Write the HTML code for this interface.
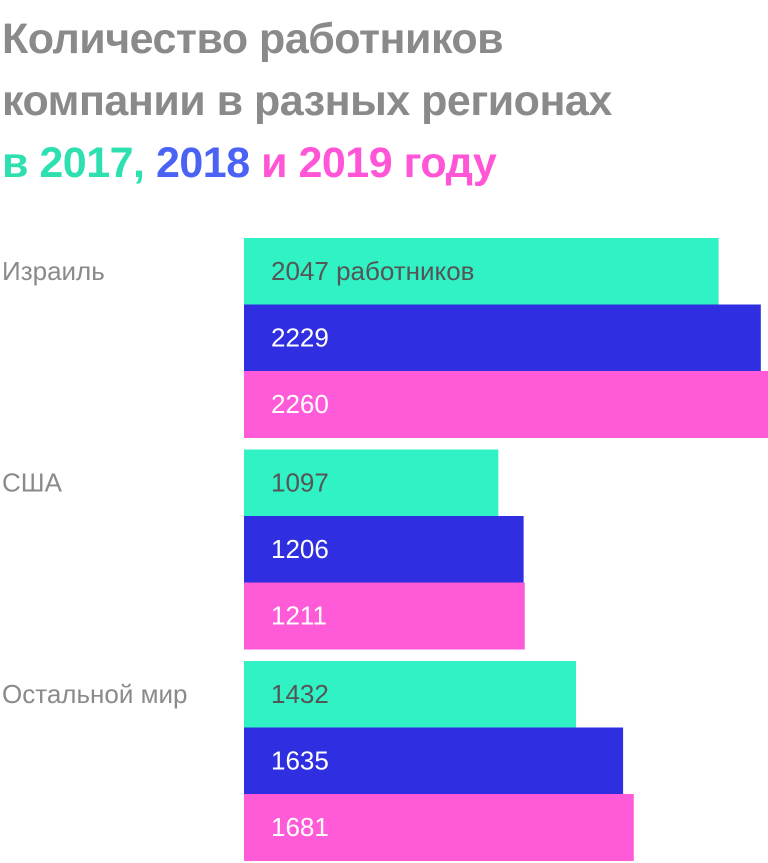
<!DOCTYPE html>
<html><head><meta charset="utf-8"><style>
html,body{margin:0;padding:0;background:#fff;}
body{width:768px;height:863px;overflow:hidden;position:relative;font-family:"Liberation Sans","DejaVu Sans",sans-serif;}
.title{position:absolute;left:2px;top:8px;font-size:43px;font-weight:bold;line-height:62px;color:#8a8a8a;letter-spacing:-0.5px;white-space:nowrap;}
</style></head><body>
<div class="title">Количество работников<br>компании в разных регионах<br><span style="color:#2ee0b0">в 2017,</span> <span style="color:#4a63f5">2018</span> <span style="color:#ff55d6">и 2019 году</span></div>
<svg id="chart" width="768" height="863" style="position:absolute;left:0;top:0"></svg>
<script>
const regions=["Израиль","США","Остальной мир"];
const years=["2017","2018","2019"];
const values2017=[2047,1097,1432];
const values2018=[2229,1206,1635];
const values2019=[2260,1211,1681];
const series=[values2017,values2018,values2019];
const colors=["#30f2c5","#2f2ee0","#ff5ad8"];
const textColors=["#555555","#ffffff","#ffffff"];
const svg=document.getElementById('chart');
const NS="http://www.w3.org/2000/svg";
const x0=244, maxV=2260, xMax=768;
function x(v){return x0+(v/maxV)*(xMax-x0);}
const groupTop=238, barH=66.5, groupStep=211.5;
function y(g,s){return groupTop+g*groupStep+s*barH;}
regions.forEach((r,g)=>{
  const lab=document.createElementNS(NS,'text');
  
  
  lab.setAttribute('x',2);lab.setAttribute('y',y(g,0)+42);
  lab.setAttribute('font-size','26');lab.setAttribute('fill','#8a8a8a');
  lab.setAttribute('font-family','Liberation Sans, sans-serif');
  lab.textContent=r;svg.appendChild(lab);
  series.forEach((vals,s)=>{
    const rect=document.createElementNS(NS,'rect');
    
    
    rect.setAttribute('x',x0);rect.setAttribute('y',y(g,s));
    rect.setAttribute('width',x(vals[g])-x0);rect.setAttribute('height',barH+0.5);
    rect.setAttribute('fill',colors[s]);svg.appendChild(rect);
    const t=document.createElementNS(NS,'text');
    
    
    t.setAttribute('x',271);t.setAttribute('y',y(g,s)+42);
    t.setAttribute('font-size','26');t.setAttribute('fill',textColors[s]);
    t.setAttribute('font-family','Liberation Sans, sans-serif');
    t.textContent=vals[g]+(g===0&&s===0?' работников':'');
    svg.appendChild(t);
  });
});
</script>
</body></html>
